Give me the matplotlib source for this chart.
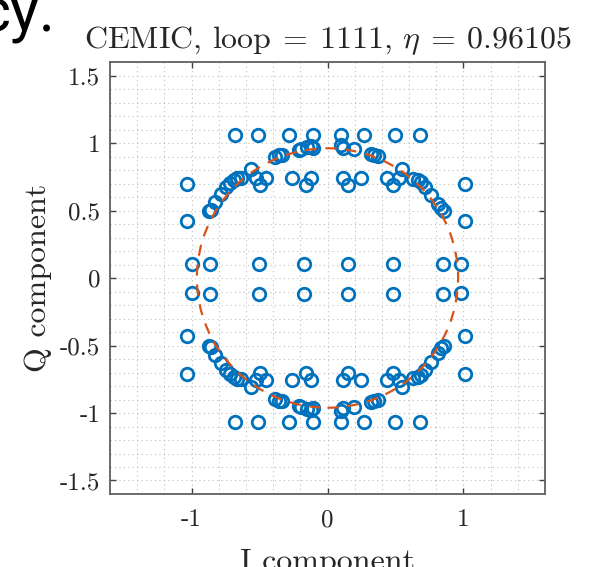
import matplotlib
matplotlib.use('Agg')
from matplotlib import pyplot as plt
from matplotlib.patches import Circle
from matplotlib.ticker import MultipleLocator

plt.rcParams['font.family'] = 'serif'
plt.rcParams['font.serif'] = ['cmr10']
plt.rcParams['mathtext.fontset'] = 'cm'
plt.rcParams['axes.unicode_minus'] = False

# Punkty konstelacji - górna połowa (Q > 0)
upper_I = [-0.68, -0.51, -0.28, -0.11, 0.10, 0.27, 0.50, 0.68,
           -0.565, -0.387, -0.357, -0.335, -0.208, -0.193, -0.149, -0.119, -0.104,
           0.097, 0.112, 0.193, 0.320, 0.342, 0.372, 0.550,
           -0.528, -0.454, -0.260, -0.119, 0.112, 0.245, 0.439, 0.528,
           -0.498, -0.156, 0.149, 0.483,
           -0.639, -0.669, -0.691, -0.714, -0.743, -0.781, -0.825, -0.855, -0.870,
           0.632, 0.669, 0.691, 0.714, 0.758, 0.810, 0.833, 0.855,
           -1.03, -1.03, 1.01, 1.01]
upper_Q = [1.06, 1.06, 1.06, 1.06, 1.06, 1.06, 1.06, 1.06,
           0.809, 0.897, 0.912, 0.912, 0.949, 0.956, 0.971, 0.978, 0.963,
           0.985, 0.963, 0.956, 0.919, 0.912, 0.904, 0.809,
           0.743, 0.743, 0.743, 0.743, 0.743, 0.743, 0.743, 0.743,
           0.691, 0.691, 0.691, 0.691,
           0.743, 0.743, 0.728, 0.706, 0.676, 0.625, 0.566, 0.507, 0.493,
           0.735, 0.728, 0.713, 0.676, 0.618, 0.551, 0.515, 0.493,
           0.70, 0.42, 0.70, 0.42]

# Dolna połowa (Q < 0)
lower_I = [-0.68, -0.51, -0.28, -0.11, 0.10, 0.27, 0.50, 0.68,
           -0.565, -0.387, -0.357, -0.335, -0.208, -0.193, -0.149, -0.119, -0.104,
           0.097, 0.112, 0.193, 0.320, 0.342, 0.372, 0.550,
           -0.528, -0.454, -0.260, -0.119, 0.112, 0.245, 0.439, 0.528,
           -0.498, -0.156, 0.149, 0.483,
           -0.639, -0.669, -0.691, -0.714, -0.743, -0.781, -0.825, -0.855, -0.870,
           0.632, 0.669, 0.691, 0.714, 0.758, 0.810, 0.833, 0.855,
           -1.03, -1.03, 1.01, 1.01]
lower_Q = [-1.07, -1.07, -1.07, -1.07, -1.07, -1.07, -1.07, -1.07,
           -0.809, -0.897, -0.912, -0.912, -0.949, -0.956, -0.971, -0.978, -0.963,
           -0.985, -0.963, -0.956, -0.919, -0.912, -0.904, -0.809,
           -0.757, -0.757, -0.757, -0.757, -0.757, -0.757, -0.757, -0.757,
           -0.700, -0.700, -0.700, -0.700,
           -0.750, -0.750, -0.735, -0.713, -0.683, -0.632, -0.573, -0.514, -0.500,
           -0.742, -0.735, -0.720, -0.683, -0.625, -0.558, -0.522, -0.500,
           -0.71, -0.43, -0.71, -0.43]

# Dwa środkowe wiersze
mid_I = [-0.996, -0.862, -0.506, -0.171, 0.149, 0.483, 0.848, 0.981]
mid_Q_top = [0.105, 0.105, 0.105, 0.105, 0.105, 0.105, 0.105, 0.105]
mid_Q_bot = [-0.11, -0.12, -0.12, -0.12, -0.12, -0.12, -0.12, -0.11]

eta = 0.96105

fig = plt.figure(figsize=(5.98, 5.67), dpi=100)
ax = fig.add_axes([110 / 598, 73 / 567, 435 / 598, 432 / 567])

blue = '#0072BD'
style = dict(ls='none', marker='o', ms=9, mfc='none', mec=blue, mew=2.0, zorder=3)
ax.plot(upper_I, upper_Q, **style)
ax.plot(lower_I, lower_Q, **style)
ax.plot(mid_I, mid_Q_top, **style)
ax.plot(mid_I, mid_Q_bot, **style)

ax.add_patch(Circle((0, 0), eta, fill=False, ec='#D95319', lw=1.6,
                    ls=(0, (5, 4)), zorder=4))

ax.set_xlim(-1.6, 1.6)
ax.set_ylim(-1.6, 1.6)
ax.set_xticks([-1, 0, 1])
ax.set_xticklabels(['-1', '0', '1'])
ax.set_yticks([-1.5, -1, -0.5, 0, 0.5, 1, 1.5])
ax.set_yticklabels(['-1.5', '-1', '-0.5', '0', '0.5', '1', '1.5'])
ax.xaxis.set_minor_locator(MultipleLocator(0.2))
ax.yaxis.set_minor_locator(MultipleLocator(0.1))
ax.grid(which='both', ls=(0, (1, 3)), color='#bdbdbd', lw=0.8)
ax.set_axisbelow(True)
ax.tick_params(which='major', direction='in', top=True, right=True,
               length=4, width=1.0, color='#404040', labelsize=18, labelcolor='#262626')
ax.tick_params(axis='x', pad=11)
ax.tick_params(axis='y', pad=7)
ax.tick_params(which='minor', length=0)
for s in ax.spines.values():
    s.set_color('#606060')
    s.set_linewidth(1.3)

ax.set_title(r'CEMIC, loop$\:=\:1111$, $\eta\:=\:0.96105$', fontsize=23, pad=10,
             color='#262626')
ax.set_ylabel('Q component', fontsize=23, labelpad=6, color='#262626')
fig.text(328 / 598, -3 / 567, 'I component', fontsize=23, ha='center', va='baseline',
         color='#262626')

# Fragment tekstu z sąsiedniego slajdu
fig.text(55 / 598, 1 - 32 / 567, 'cy.', family='Roboto', fontsize=44, ha='right',
         va='baseline', color='black')

fig.savefig('out.png', dpi=100)
